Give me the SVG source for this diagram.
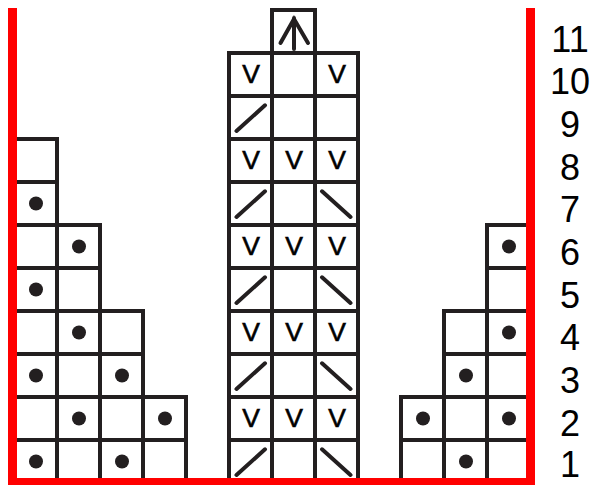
<svg xmlns="http://www.w3.org/2000/svg" width="591" height="485" viewBox="0 0 591 485">
<style>
.c{fill:#fff;stroke:#231f20;stroke-width:4}
.d{fill:#231f20}
.s{stroke:#231f20;stroke-width:4;stroke-linecap:round;fill:none}
.v{font-family:"Liberation Sans",Arial,sans-serif;font-size:26.5px;fill:#000;stroke:#000;stroke-width:0.6;text-anchor:middle}
.n{font-family:"Liberation Sans",Arial,sans-serif;font-size:36px;fill:#000;text-anchor:middle}
.r{stroke:#ff0000;stroke-width:9;fill:none}
</style>
<g id="left">
<rect class="c" x="14" y="440" width="43" height="43"/><rect class="c" x="57" y="440" width="43" height="43"/><rect class="c" x="100" y="440" width="43" height="43"/><rect class="c" x="143" y="440" width="43" height="43"/>
<rect class="c" x="14" y="397" width="43" height="43"/><rect class="c" x="57" y="397" width="43" height="43"/><rect class="c" x="100" y="397" width="43" height="43"/><rect class="c" x="143" y="397" width="43" height="43"/>
<rect class="c" x="14" y="354" width="43" height="43"/><rect class="c" x="57" y="354" width="43" height="43"/><rect class="c" x="100" y="354" width="43" height="43"/>
<rect class="c" x="14" y="311" width="43" height="43"/><rect class="c" x="57" y="311" width="43" height="43"/><rect class="c" x="100" y="311" width="43" height="43"/>
<rect class="c" x="14" y="268" width="43" height="43"/><rect class="c" x="57" y="268" width="43" height="43"/>
<rect class="c" x="14" y="225" width="43" height="43"/><rect class="c" x="57" y="225" width="43" height="43"/>
<rect class="c" x="14" y="182" width="43" height="43"/>
<rect class="c" x="14" y="139" width="43" height="43"/>
<circle class="d" cx="36" cy="461.5" r="7"/><circle class="d" cx="122" cy="461.5" r="7"/>
<circle class="d" cx="79" cy="418.5" r="7"/><circle class="d" cx="165" cy="418.5" r="7"/>
<circle class="d" cx="36" cy="375.5" r="7"/><circle class="d" cx="122" cy="375.5" r="7"/>
<circle class="d" cx="79" cy="332.5" r="7"/>
<circle class="d" cx="36" cy="289.5" r="7"/>
<circle class="d" cx="79" cy="246.5" r="7"/>
<circle class="d" cx="36" cy="203.5" r="7"/>
</g>
<g id="center">
<rect class="c" x="229" y="440" width="43" height="43"/><rect class="c" x="272" y="440" width="43" height="43"/><rect class="c" x="315" y="440" width="43" height="43"/>
<rect class="c" x="229" y="397" width="43" height="43"/><rect class="c" x="272" y="397" width="43" height="43"/><rect class="c" x="315" y="397" width="43" height="43"/>
<rect class="c" x="229" y="354" width="43" height="43"/><rect class="c" x="272" y="354" width="43" height="43"/><rect class="c" x="315" y="354" width="43" height="43"/>
<rect class="c" x="229" y="311" width="43" height="43"/><rect class="c" x="272" y="311" width="43" height="43"/><rect class="c" x="315" y="311" width="43" height="43"/>
<rect class="c" x="229" y="268" width="43" height="43"/><rect class="c" x="272" y="268" width="43" height="43"/><rect class="c" x="315" y="268" width="43" height="43"/>
<rect class="c" x="229" y="225" width="43" height="43"/><rect class="c" x="272" y="225" width="43" height="43"/><rect class="c" x="315" y="225" width="43" height="43"/>
<rect class="c" x="229" y="182" width="43" height="43"/><rect class="c" x="272" y="182" width="43" height="43"/><rect class="c" x="315" y="182" width="43" height="43"/>
<rect class="c" x="229" y="139" width="43" height="43"/><rect class="c" x="272" y="139" width="43" height="43"/><rect class="c" x="315" y="139" width="43" height="43"/>
<rect class="c" x="229" y="96" width="43" height="43"/><rect class="c" x="272" y="96" width="43" height="43"/><rect class="c" x="315" y="96" width="43" height="43"/>
<rect class="c" x="229" y="53" width="43" height="43"/><rect class="c" x="272" y="53" width="43" height="43"/><rect class="c" x="315" y="53" width="43" height="43"/>
<rect class="c" x="272" y="10" width="43" height="43"/>
<path class="s" d="M236.5,475 L265,449.3 M322,449.3 L350.5,475"/>
<path class="s" d="M236.5,389 L265,363.3 M322,363.3 L350.5,389"/>
<path class="s" d="M236.5,303 L265,277.3 M322,277.3 L350.5,303"/>
<path class="s" d="M236.5,217 L265,191.3 M322,191.3 L350.5,217"/>
<path class="s" d="M236.5,131 L265,105.3"/>
<g class="v">
<text x="251" y="427">V</text><text x="294" y="427">V</text><text x="337" y="427">V</text>
<text x="251" y="341">V</text><text x="294" y="341">V</text><text x="337" y="341">V</text>
<text x="251" y="255">V</text><text x="294" y="255">V</text><text x="337" y="255">V</text>
<text x="251" y="169">V</text><text x="294" y="169">V</text><text x="337" y="169">V</text>
<text x="251" y="83">V</text><text x="337" y="83">V</text>
</g>
<path class="s" d="M294,18 L294,49 M280.5,43 L294,19 L308,43" stroke-linejoin="miter" stroke-linecap="butt"/>
</g>
<g id="right">
<rect class="c" x="401" y="440" width="43" height="43"/><rect class="c" x="444" y="440" width="43" height="43"/><rect class="c" x="487" y="440" width="43" height="43"/>
<rect class="c" x="401" y="397" width="43" height="43"/><rect class="c" x="444" y="397" width="43" height="43"/><rect class="c" x="487" y="397" width="43" height="43"/>
<rect class="c" x="444" y="354" width="43" height="43"/><rect class="c" x="487" y="354" width="43" height="43"/>
<rect class="c" x="444" y="311" width="43" height="43"/><rect class="c" x="487" y="311" width="43" height="43"/>
<rect class="c" x="487" y="268" width="43" height="43"/>
<rect class="c" x="487" y="225" width="43" height="43"/>
<circle class="d" cx="466" cy="461.5" r="7"/>
<circle class="d" cx="423" cy="418.5" r="7"/><circle class="d" cx="509" cy="418.5" r="7"/>
<circle class="d" cx="466" cy="375.5" r="7"/>
<circle class="d" cx="509" cy="332.5" r="7"/>
<circle class="d" cx="509" cy="246.5" r="7"/>
</g>
<g id="frame">
<path class="r" d="M12.5,8 L12.5,482.5 L530.5,482.5 L530.5,8"/>
</g>
<g id="rows" class="n">
<text x="570" y="477.3">1</text>
<text x="570" y="435.6">2</text>
<text x="570" y="393">3</text>
<text x="570" y="350.3">4</text>
<text x="570" y="307.7">5</text>
<text x="570" y="265">6</text>
<text x="570" y="222.3">7</text>
<text x="570" y="179.7">8</text>
<text x="570" y="137">9</text>
<text x="570" y="94.3">10</text>
<text x="570" y="51.7">11</text>
</g>
</svg>
